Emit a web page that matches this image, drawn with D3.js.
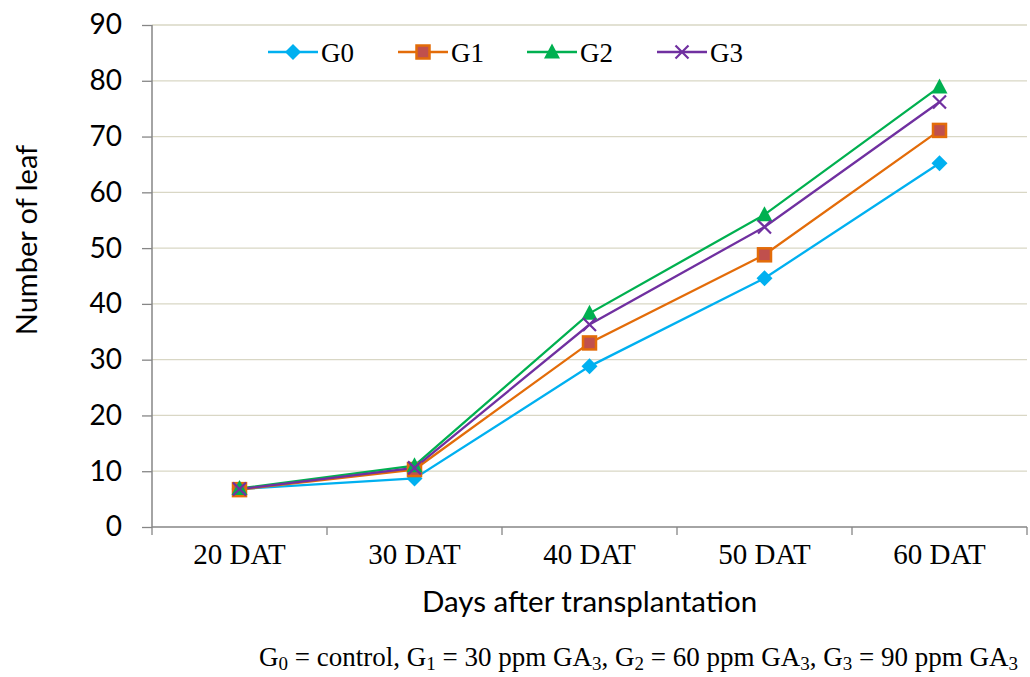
<!DOCTYPE html>
<html>
<head>
<meta charset="utf-8">
<script src="https://cdn.jsdelivr.net/npm/d3@7"></script>
<style>
body{margin:0;background:#fff;}
.ytick text{font-family:Lato,"Open Sans",sans-serif;font-size:28px;fill:#000;}
.xtick text{font-family:"Liberation Serif","Times New Roman",serif;font-size:29px;fill:#000;}
</style>
</head>
<body>
<div id="viz"></div>
<script>
var days=["20 DAT","30 DAT","40 DAT","50 DAT","60 DAT"];
var seriesNames=["G0","G1","G2","G3"];
var g0=[6.8,8.7,28.8,44.6,65.2];
var g1=[6.7,10.3,33.0,48.8,71.1];
var g2=[6.9,11.0,38.3,56.0,78.9];
var g3=[6.8,10.6,36.3,53.8,76.2];
var yTicks=[0,10,20,30,40,50,60,70,80,90];

var width=1030, height=677;
var pLeft=152, pRight=1027, pTop=25, pBottom=527;

var svg=d3.select("#viz").append("svg")
  .attr("width",width).attr("height",height);

var xScale=d3.scaleBand().domain(days).range([pLeft,pRight]);
var yScale=d3.scaleLinear().domain([0,90]).range([pBottom,pTop]);

// grid
svg.selectAll(".grid").data(yTicks.slice(1)).enter()
  .append("line")
  .attr("x1",pLeft).attr("x2",pRight)
  .attr("y1",function(d){return yScale(d);})
  .attr("y2",function(d){return yScale(d);})
  .attr("stroke","#d9d7c5").attr("stroke-width",1.3);

// y axis
var yAxis=d3.axisLeft(yScale).tickValues(yTicks).tickSize(10).tickPadding(20);
var gy=svg.append("g").attr("class","ytick")
  .attr("transform","translate("+pLeft+",0)").call(yAxis);
gy.select(".domain").attr("stroke","#868686").attr("stroke-width",1.5).attr("d","M0,"+pTop+"V"+pBottom);
gy.selectAll(".tick line").attr("stroke","#868686").attr("stroke-width",1.3);

// x axis
var xAxis=d3.axisBottom(xScale).tickSize(0).tickPadding(16);
var gx=svg.append("g").attr("class","xtick")
  .attr("transform","translate(0,"+pBottom+")").call(xAxis);
gx.select(".domain").attr("stroke","#868686").attr("stroke-width",1.5).attr("d","M"+pLeft+",0H"+pRight);
var bounds=days.map(function(d){return xScale(d);}).concat([pRight]);
gx.selectAll(".btick").data(bounds).enter().append("line")
  .attr("x1",function(d){return d;}).attr("x2",function(d){return d;})
  .attr("y1",0).attr("y2",8)
  .attr("stroke","#868686").attr("stroke-width",1.3);

var series=[
  {name:seriesNames[0],values:g0,color:"#00b0f0",marker:"diamond"},
  {name:seriesNames[1],values:g1,color:"#e36c09",marker:"square"},
  {name:seriesNames[2],values:g2,color:"#00b050",marker:"triangle"},
  {name:seriesNames[3],values:g3,color:"#7030a0",marker:"x"}
];

function drawMarker(g,type,x,y,color){
  if(type=="diamond"){
    g.append("path").attr("d","M"+x+","+(y-8)+"L"+(x+8)+","+y+"L"+x+","+(y+8)+"L"+(x-8)+","+y+"Z")
      .attr("fill",color);
  } else if(type=="square"){
    g.append("rect").attr("x",x-6.5).attr("y",y-6.5).attr("width",13).attr("height",13)
      .attr("fill","#c0504d").attr("stroke",color).attr("stroke-width",2.5);
  } else if(type=="triangle"){
    g.append("path").attr("d","M"+x+","+(y-8.5)+"L"+(x+8)+","+(y+6.5)+"L"+(x-8)+","+(y+6.5)+"Z")
      .attr("fill",color);
  } else {
    g.append("path").attr("d","M"+(x-6.5)+","+(y-6.5)+"L"+(x+6.5)+","+(y+6.5)+"M"+(x+6.5)+","+(y-6.5)+"L"+(x-6.5)+","+(y+6.5))
      .attr("stroke",color).attr("stroke-width",2.2).attr("fill","none");
  }
}

var line=d3.line()
  .x(function(d,i){return xScale(days[i])+xScale.bandwidth()/2;})
  .y(function(d){return yScale(d);});

series.forEach(function(s){
  svg.append("path").datum(s.values)
    .attr("d",line).attr("fill","none")
    .attr("stroke",s.color).attr("stroke-width",2.3);
});
series.forEach(function(s){
  var g=svg.append("g");
  s.values.forEach(function(v,i){
    drawMarker(g,s.marker,xScale(days[i])+xScale.bandwidth()/2,yScale(v),s.color);
  });
});

// legend
var legendX=[268,398,527,657];
series.forEach(function(s,i){
  var g=svg.append("g");
  var lx=legendX[i], ly=52;
  g.append("line").attr("x1",lx).attr("x2",lx+50).attr("y1",ly).attr("y2",ly)
    .attr("stroke",s.color).attr("stroke-width",2.3);
  drawMarker(g,s.marker,lx+25,ly,s.color);
  g.append("text").attr("x",lx+53).attr("y",ly+10).text(s.name)
    .style("font-family","'Liberation Serif','Times New Roman',serif")
    .style("font-size","27px");
});

// axis titles
svg.append("text")
  .attr("x",(pLeft+pRight)/2).attr("y",612)
  .attr("text-anchor","middle")
  .style("font-family","Lato,'Open Sans',sans-serif").style("font-size","29.5px")
  .text("Days after transplantation");

svg.append("text")
  .attr("transform","translate(37,240) rotate(-90)")
  .attr("text-anchor","middle")
  .style("font-family","Lato,'Open Sans',sans-serif").style("font-size","29px")
  .text("Number of leaf");

// footnote
var foot=svg.append("text").attr("x",259).attr("y",666)
  .style("font-family","'Liberation Serif','Times New Roman',serif").style("font-size","27px");
var parts=[["G",""],["0","sub"],[" = control, G",""],["1","sub"],[" = 30 ppm GA",""],["3","sub"],
  [", G",""],["2","sub"],[" = 60 ppm GA",""],["3","sub"],[", G",""],["3","sub"],[" = 90 ppm GA",""],["3","sub"]];
parts.forEach(function(p,i){
  var t=foot.append("tspan").text(p[0]);
  if(p[1]=="sub"){ t.attr("dy",4).style("font-size","19px"); }
  else if(i>0){ t.attr("dy",-4); }
});
</script>
</body>
</html>
